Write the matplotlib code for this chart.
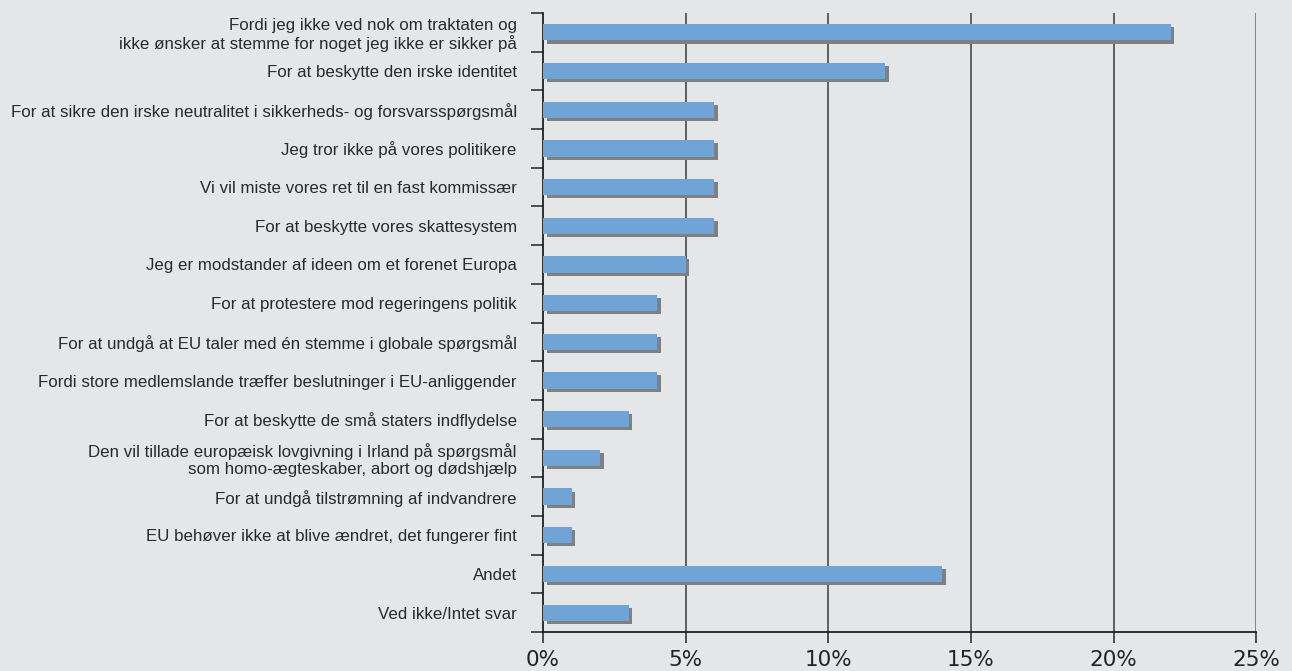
import numpy as np
import matplotlib.pyplot as plt
import matplotlib.patheffects as pe
from matplotlib.ticker import FixedLocator

# Survey answers (Danish), top to bottom
labels = [
    "Fordi jeg ikke ved nok om traktaten og\nikke ønsker at stemme for noget jeg ikke er sikker på",
    "For at beskytte den irske identitet",
    "For at sikre den irske neutralitet i sikkerheds- og forsvarsspørgsmål",
    "Jeg tror ikke på vores politikere",
    "Vi vil miste vores ret til en fast kommissær",
    "For at beskytte vores skattesystem",
    "Jeg er modstander af ideen om et forenet Europa",
    "For at protestere mod regeringens politik",
    "For at undgå at EU taler med én stemme i globale spørgsmål",
    "Fordi store medlemslande træffer beslutninger i EU-anliggender",
    "For at beskytte de små staters indflydelse",
    "Den vil tillade europæisk lovgivning i Irland på spørgsmål\nsom homo-ægteskaber, abort og dødshjælp",
    "For at undgå tilstrømning af indvandrere",
    "EU behøver ikke at blive ændret, det fungerer fint",
    "Andet",
    "Ved ikke/Intet svar",
]
values = [22, 12, 6, 6, 6, 6, 5, 4, 4, 4, 3, 2, 1, 1, 14, 3]
xticks = [0, 5, 10, 15, 20, 25]
xlabels = ["0%", "5%", "10%", "15%", "20%", "25%"]

bg = "#e5e6e8"
fig = plt.figure(figsize=(12.92, 6.71), dpi=100, facecolor=bg)
ax = fig.add_axes([0.4203, 0.0581, 0.5521, 0.9225], facecolor=bg)

y = np.arange(len(labels))
bars = ax.barh(y, values, height=0.42, color="#70a3d6", zorder=3)
for b in bars:
    b.set_path_effects([
        pe.SimplePatchShadow(offset=(2.6, -2.2), shadow_rgbFace="#808080", alpha=1.0),
        pe.Normal(),
    ])

ax.set_ylim(len(labels) - 0.5, -0.5)
ax.set_xlim(0, 25)

# vertical grid lines
for t in xticks[1:]:
    ax.axvline(t, color="#6a6a6a" if t == 25 else "#3a3a3a", lw=1.1, zorder=1)

ax.set_yticks(y)
ax.set_yticklabels(labels, fontsize=12.2, family="Liberation Sans", color="#2a2a2a",
                   linespacing=1.15)
ax.tick_params(axis="y", which="major", length=0, pad=19)
ax.yaxis.set_minor_locator(FixedLocator(np.arange(-0.5, len(labels), 1.0)))
ax.tick_params(axis="y", which="minor", length=9, width=1.2, color="#333333")

ax.set_xticks(xticks)
ax.set_xticklabels(xlabels, fontsize=15.5, family="DejaVu Sans", color="#222222")
ax.tick_params(axis="x", length=8, width=1.1, color="#222222", pad=5)

for s in ["top", "right"]:
    ax.spines[s].set_visible(False)
for s in ["left", "bottom"]:
    ax.spines[s].set_color("#111111")
    ax.spines[s].set_linewidth(1.2)

fig.savefig("out.png", dpi=100, facecolor=bg)
